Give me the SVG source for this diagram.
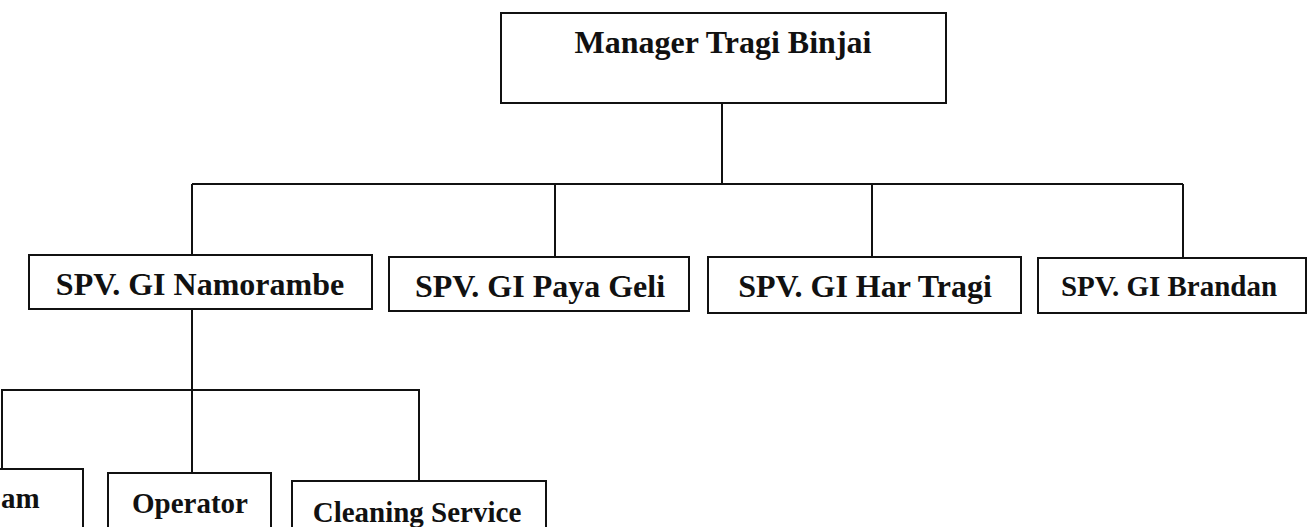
<svg xmlns="http://www.w3.org/2000/svg" width="1313" height="527" viewBox="0 0 1313 527">
<style>
.box{fill:#fff;stroke:#111;stroke-width:2}
.t{font-family:"Liberation Serif","Times New Roman",serif;font-weight:bold;fill:#111;text-anchor:middle}
.c line,.c polyline{stroke:#111;stroke-width:2;fill:none}
</style>
<rect width="1313" height="527" fill="#fff"/>
<g class="c" id="connectors">
<line x1="722" y1="103" x2="722" y2="184"/>
<line x1="192" y1="184" x2="1183" y2="184"/>
<line x1="192" y1="184" x2="192" y2="255"/>
<line x1="555" y1="184" x2="555" y2="257"/>
<line x1="872" y1="184" x2="872" y2="257"/>
<line x1="1183" y1="184" x2="1183" y2="258"/>
<line x1="192" y1="309" x2="192" y2="473"/>
<polyline points="2,469 2,390 419,390 419,481"/>
</g>
<g id="manager"><rect class="box" x="501" y="13" width="445" height="90"/><text class="t" x="723" y="53" font-size="32">Manager Tragi Binjai</text></g>
<g id="namorambe"><rect class="box" x="29" y="255" width="343" height="54"/><text class="t" x="200" y="295" font-size="32">SPV. GI Namorambe</text></g>
<g id="payageli"><rect class="box" x="389" y="257" width="300" height="54"/><text class="t" x="540" y="297" font-size="32">SPV. GI Paya Geli</text></g>
<g id="hartragi"><rect class="box" x="708" y="257" width="313" height="56"/><text class="t" x="865" y="297" font-size="32">SPV. GI Har Tragi</text></g>
<g id="brandan"><rect class="box" x="1038" y="258" width="268" height="55"/><text class="t" x="1169" y="296" font-size="29">SPV. GI Brandan</text></g>
<g id="team"><rect class="box" x="-80" y="469" width="163" height="70"/><text class="t" x="1" y="508" font-size="29" style="text-anchor:start">am</text></g>
<g id="operator"><rect class="box" x="108" y="473" width="163" height="70"/><text class="t" x="190" y="513" font-size="29">Operator</text></g>
<g id="cleaning"><rect class="box" x="292" y="481" width="254" height="70"/><text class="t" x="417" y="522" font-size="29">Cleaning Service</text></g>
</svg>
